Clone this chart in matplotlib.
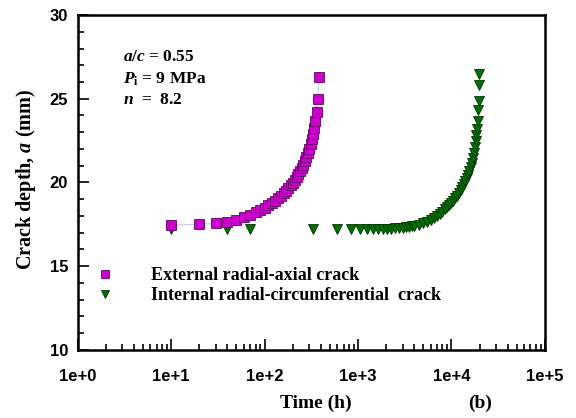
import matplotlib
matplotlib.use('Agg')
import matplotlib.pyplot as plt
from matplotlib.ticker import FixedLocator, FuncFormatter, LogLocator, NullFormatter, MultipleLocator

# external radial-axial crack (squares)
t_ext = [10, 20, 30, 40, 50, 60, 70, 80, 90, 100, 110, 120, 130, 140, 150, 160, 170, 180, 190,
         200, 210, 220, 230, 240, 250, 260, 270, 280, 290, 300, 310, 320, 330, 340, 350, 360,
         370, 380]
a_ext = [17.45, 17.5, 17.55, 17.62, 17.76, 17.92, 18.08, 18.22, 18.36, 18.5, 18.64, 18.78,
         18.92, 19.06, 19.2, 19.35, 19.5, 19.66, 19.82, 19.98, 20.15, 20.32, 20.5, 20.68,
         20.87, 21.07, 21.28, 21.5, 21.74, 22.0, 22.28, 22.58, 22.9, 23.25, 23.65, 24.2,
         25.0, 26.3]

# internal radial-circumferential crack (triangles)
t_int = [10, 40, 70, 330, 590, 850, 1050, 1250, 1450, 1650, 1850, 2050, 2250, 2500, 2750,
         3000, 3250, 3500, 3750, 4000, 4500, 5000, 5500, 6000, 6500, 7000, 7500, 8000, 8500,
         9000, 9500, 10000, 10500, 11000, 11500, 12000, 12500, 13000, 13500, 14000, 14500,
         15000, 15500, 16000, 16500, 17000, 17400, 17800, 18200, 18500, 18800, 19100, 19300,
         19500, 19700, 19850]
a_int = [17.2, 17.2, 17.2, 17.2, 17.2, 17.2, 17.2, 17.21, 17.21, 17.22, 17.22, 17.23, 17.24,
         17.25, 17.27, 17.29, 17.31, 17.34, 17.37, 17.4, 17.47, 17.55, 17.65, 17.76, 17.88,
         18.0, 18.13, 18.26, 18.4, 18.54, 18.68, 18.8, 18.92, 19.05, 19.2, 19.35, 19.52,
         19.7, 19.88, 20.06, 20.25, 20.45, 20.66, 20.9, 21.17, 21.47, 21.74, 22.1, 22.5,
         22.85, 23.2, 23.7, 24.3, 24.85, 25.8, 26.5]

xticks = [1, 10, 100, 1000, 10000, 100000]
xtick_labels = ['1e+0', '1e+1', '1e+2', '1e+3', '1e+4', '1e+5']

plt.rcParams['mathtext.fontset'] = 'custom'
plt.rcParams['mathtext.rm'] = 'Liberation Serif:bold'
plt.rcParams['mathtext.it'] = 'Liberation Serif:bold:italic'
plt.rcParams['mathtext.bf'] = 'Liberation Serif:bold'

serif = {'family': 'Liberation Serif', 'weight': 'bold'}

fig = plt.figure(figsize=(5.76, 4.18), dpi=100)
ax = fig.add_axes([0.135, 0.163, 0.811, 0.801])

ax.plot(t_ext, a_ext, color='#c8c8f0', lw=0.8, zorder=1)
ax.plot(t_ext, a_ext, ls='none', marker='s', ms=7, mfc='#cc00cc', mec='#660066', mew=0.6,
        label='External radial-axial crack', zorder=3)
ax.plot(t_int, a_int, ls='none', marker='v', ms=7.5, mfc='#006e00', mec='#003300', mew=0.6,
        label='Internal radial-circumferential  crack', zorder=2)

ax.set_xscale('log')
ax.set_xlim(1, 1e5)
ax.set_ylim(10, 30)

ax.xaxis.set_major_locator(FixedLocator(xticks))
ax.xaxis.set_major_formatter(FuncFormatter(lambda v, p: xtick_labels[xticks.index(v)] if v in xticks else ''))
ax.xaxis.set_minor_locator(LogLocator(base=10, subs=range(2, 10), numticks=20))
ax.xaxis.set_minor_formatter(NullFormatter())
ax.yaxis.set_major_locator(MultipleLocator(5))
ax.yaxis.set_minor_locator(MultipleLocator(1))

ax.tick_params(which='both', direction='in', top=False, right=False, width=1.2)
ax.tick_params(which='major', length=8)
ax.tick_params(which='minor', length=4)
ax.tick_params(axis='x', which='major', pad=14)
ax.tick_params(axis='y', which='major', pad=7)
for lab in ax.get_xticklabels() + ax.get_yticklabels():
    lab.set_fontfamily('Liberation Sans')
    lab.set_fontweight('bold')
    lab.set_fontsize(12)
for s in ax.spines.values():
    s.set_linewidth(1.8)

ax.set_ylabel('Crack depth, $a$ (mm)', fontdict=serif, fontsize=14.5)
ax.yaxis.set_label_coords(-0.085, 0.51)
fig.text(0.549, 0.034, 'Time (h)', fontdict=serif, fontsize=14, ha='center', va='center')
fig.text(0.833, 0.034, '(b)', fontdict=serif, fontsize=14, ha='center', va='center')

ax.text(0.096, 0.875, '$a$/$c$ = 0.55', fontdict=serif, fontsize=12.5, transform=ax.transAxes, va='center')
ax.text(0.096, 0.809, r'$P_{\rm i}$ = 9 MPa', fontdict=serif, fontsize=12.5, transform=ax.transAxes, va='center')
ax.text(0.096, 0.746, '$n$  =  8.2', fontdict=serif, fontsize=12.5, transform=ax.transAxes, va='center')

ax.legend(loc='lower left', bbox_to_anchor=(0.04, 0.137), frameon=False, borderaxespad=0,
          borderpad=0, handlelength=1.0, handletextpad=2.0, labelspacing=0.15, numpoints=1,
          markerscale=0.85, prop={'family': 'Liberation Serif', 'weight': 'bold', 'size': 13})

fig.savefig('out.png', dpi=100)
